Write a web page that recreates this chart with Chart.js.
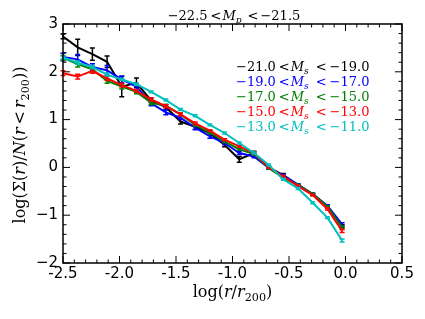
<!DOCTYPE html>
<html>
<head>
<meta charset="utf-8">
<script src="https://cdn.jsdelivr.net/npm/chart.js@4"></script>
<style>
  body { margin: 0; background: #fff; }
  canvas { display: block; }
</style>
</head>
<body>
<canvas id="profile" width="425" height="319"></canvas>
<script>
// log(r/r200) bin centres
const radii = [-2.50, -2.37, -2.24, -2.11, -1.98, -1.85, -1.72, -1.59, -1.46, -1.33,
               -1.20, -1.07, -0.94, -0.81, -0.68, -0.55, -0.42, -0.29, -0.16, -0.03];

// one profile per satellite magnitude bin
const bins = [['−21.0', '−19.0'], ['−19.0', '−17.0'], ['−17.0', '−15.0'], ['−15.0', '−13.0'], ['−13.0', '−11.0']];
const colors = ['#000000', '#0000ff', '#008000', '#ff0000', '#00bfbf'];

const prof1 = [2.74, 2.51, 2.37, 2.21, 1.69, 1.77, 1.40, 1.26, 0.96, 0.85, 0.72, 0.47, 0.17, 0.30, 0.00, -0.16, -0.37, -0.56, -0.82, -1.23];
const prof2 = [2.31, 2.26, 2.10, 2.03, 1.84, 1.69, 1.34, 1.15, 1.04, 0.83, 0.65, 0.51, 0.30, 0.23, -0.01, -0.17, -0.36, -0.56, -0.80, -1.19];
const prof3 = [2.29, 2.16, 2.05, 1.81, 1.69, 1.58, 1.35, 1.29, 1.11, 0.89, 0.73, 0.54, 0.38, 0.28, -0.01, -0.22, -0.37, -0.56, -0.82, -1.26];
const prof4 = [1.97, 1.90, 2.02, 1.86, 1.72, 1.60, 1.42, 1.28, 1.11, 0.92, 0.77, 0.58, 0.44, 0.30, 0.00, -0.19, -0.39, -0.58, -0.87, -1.33];
const prof5 = [2.30, 2.19, 2.10, 1.94, 1.84, 1.74, 1.58, 1.41, 1.21, 1.08, 0.89, 0.72, 0.51, 0.30, 0.05, -0.25, -0.44, -0.74, -1.05, -1.53];

const err1 = [0.05, 0.17, 0.13, 0.12, 0.21, 0.10, 0.05, 0.05, 0.05, 0.05, 0.05, 0.04, 0.06, 0.04, 0.03, 0.03, 0.02, 0.02, 0.02, 0.03];
const err2 = [0.08, 0.10, 0.07, 0.10, 0.07, 0.06, 0.05, 0.05, 0.04, 0.04, 0.04, 0.03, 0.03, 0.03, 0.02, 0.02, 0.02, 0.02, 0.02, 0.03];
const err3 = [0.05, 0.06, 0.05, 0.05, 0.05, 0.04, 0.04, 0.03, 0.03, 0.03, 0.03, 0.02, 0.02, 0.02, 0.02, 0.02, 0.02, 0.02, 0.02, 0.03];
const err4 = [0.05, 0.05, 0.05, 0.04, 0.04, 0.03, 0.03, 0.03, 0.03, 0.03, 0.02, 0.02, 0.02, 0.02, 0.02, 0.02, 0.02, 0.02, 0.02, 0.03];
const err5 = [0.03, 0.03, 0.03, 0.03, 0.02, 0.02, 0.02, 0.02, 0.02, 0.02, 0.02, 0.02, 0.02, 0.02, 0.02, 0.02, 0.02, 0.02, 0.02, 0.03];

const profiles = [prof1, prof2, prof3, prof4, prof5];
const errors = [err1, err2, err3, err4, err5];

const SERIF = '"DejaVu Serif"';

// draw a run of text pieces (italic / subscript) starting at x
function drawRich(ctx, x, y, parts, size, align) {
    const fontOf = p => (p.it ? 'italic ' : '') + (p.sub ? size * 0.7 : size) + 'px ' + SERIF;
    let total = 0;
    parts.forEach(p => { ctx.font = fontOf(p); total += (p.gap || 0) + ctx.measureText(p.t).width; });
    let cx = align === 'center' ? x - total / 2 : x;
    ctx.textBaseline = 'alphabetic';
    ctx.textAlign = 'left';
    parts.forEach(p => {
        ctx.font = fontOf(p);
        cx += p.gap || 0;
        ctx.fillText(p.t, cx, p.sub ? y + size * 0.25 : y);
        cx += ctx.measureText(p.t).width;
    });
}

const frameAndText = {
    id: 'frameAndText',
    afterDatasetDraw(chart, args) {
        const ctx = chart.ctx;
        const ys = chart.scales.y;
        const vals = profiles[args.index], errs = errors[args.index];
        ctx.save();
        ctx.strokeStyle = colors[args.index];
        ctx.lineWidth = 1.5;
        args.meta.data.forEach((pt, i) => {
            const top = ys.getPixelForValue(vals[i] + errs[i]);
            const bot = ys.getPixelForValue(vals[i] - errs[i]);
            ctx.beginPath();
            ctx.moveTo(pt.x, top); ctx.lineTo(pt.x, bot);
            ctx.moveTo(pt.x - 2.5, top); ctx.lineTo(pt.x + 2.5, top);
            ctx.moveTo(pt.x - 2.5, bot); ctx.lineTo(pt.x + 2.5, bot);
            ctx.stroke();
        });
        ctx.restore();
    },
    afterDraw(chart) {
        const ctx = chart.ctx;
        const a = chart.chartArea;
        const xs = chart.scales.x, ys = chart.scales.y;
        ctx.save();
        ctx.strokeStyle = '#000';
        ctx.lineWidth = 1.5;
        ctx.strokeRect(a.left, a.top, a.right - a.left, a.bottom - a.top);

        // inward ticks on all four sides
        ctx.lineWidth = 1;
        ctx.beginPath();
        for (let i = -25; i <= 5; i++) {
            const px = xs.getPixelForValue(i / 10);
            const len = i % 5 === 0 ? 7 : 3.5;
            ctx.moveTo(px, a.bottom); ctx.lineTo(px, a.bottom - len);
            ctx.moveTo(px, a.top); ctx.lineTo(px, a.top + len);
        }
        for (let i = -10; i <= 15; i++) {
            const py = ys.getPixelForValue(i / 5);
            const len = i % 5 === 0 ? 7 : 3.5;
            ctx.moveTo(a.left, py); ctx.lineTo(a.left + len, py);
            ctx.moveTo(a.right, py); ctx.lineTo(a.right - len, py);
        }
        ctx.stroke();

        ctx.fillStyle = '#000';
        // title
        drawRich(ctx, 234, 20, [
            { t: '−22.5' }, { t: '<', gap: 3 }, { t: 'M', it: 1, gap: 1 }, { t: 'p', it: 1, sub: 1 },
            { t: '<', gap: 6 }, { t: '−21.5', gap: 2 }
        ], 13, 'center');

        // legend as coloured text
        bins.forEach((b, k) => {
            ctx.fillStyle = colors[k];
            drawRich(ctx, 236, 71 + k * 15, [
                { t: b[0] }, { t: '<', gap: 3 }, { t: 'M', it: 1, gap: 1 }, { t: 's', it: 1, sub: 1 },
                { t: '<', gap: 7 }, { t: b[1], gap: 3 }
            ], 13, 'left');
        });

        // axis titles
        ctx.fillStyle = '#000';
        drawRich(ctx, (a.left + a.right) / 2, 297, [
            { t: 'log(' }, { t: 'r', it: 1 }, { t: '/' }, { t: 'r', it: 1 }, { t: '200', sub: 1 }, { t: ')' }
        ], 16, 'center');

        ctx.translate(25, 145);
        ctx.rotate(-Math.PI / 2);
        drawRich(ctx, 0, 0, [
            { t: 'log(Σ(' }, { t: 'r', it: 1 }, { t: ')/' }, { t: 'N', it: 1 }, { t: '(' }, { t: 'r', it: 1 },
            { t: '<', gap: 3 }, { t: 'r', it: 1, gap: 3 }, { t: '200', sub: 1 }, { t: '))' }
        ], 16, 'center');
        ctx.restore();
    }
};

const datasets = profiles.map((vals, k) => ({
    label: bins[k][0] + ' < Ms < ' + bins[k][1],
    data: radii.map((r, i) => ({ x: r, y: vals[i] })),
    borderColor: colors[k],
    borderWidth: 2,
    pointRadius: 0,
    tension: 0,
    fill: false,
    order: 4 - k
}));

new Chart(document.getElementById('profile').getContext('2d'), {
    type: 'line',
    data: { datasets },
    options: {
        responsive: false,
        animation: false,
        layout: { padding: { top: 24, right: 23, left: 0, bottom: 0 } },
        plugins: { legend: { display: false }, tooltip: { enabled: false } },
        scales: {
            x: {
                type: 'linear', min: -2.5, max: 0.5,
                ticks: {
                    stepSize: 0.5, maxRotation: 0, padding: 2, color: '#000',
                    font: { family: 'DejaVu Sans', size: 15 },
                    callback: v => v.toFixed(1)
                },
                grid: { display: false, drawTicks: false },
                border: { display: false },
                afterFit: s => { s.height = 56; }
            },
            y: {
                min: -2, max: 3,
                ticks: {
                    stepSize: 1, padding: 5, color: '#000',
                    font: { family: 'DejaVu Sans', size: 15 },
                    callback: v => (v < 0 ? '−' + Math.abs(v) : String(v))
                },
                grid: { display: false, drawTicks: false },
                border: { display: false },
                afterFit: s => { s.width = 63; }
            }
        }
    },
    plugins: [frameAndText]
});
</script>
</body>
</html>
